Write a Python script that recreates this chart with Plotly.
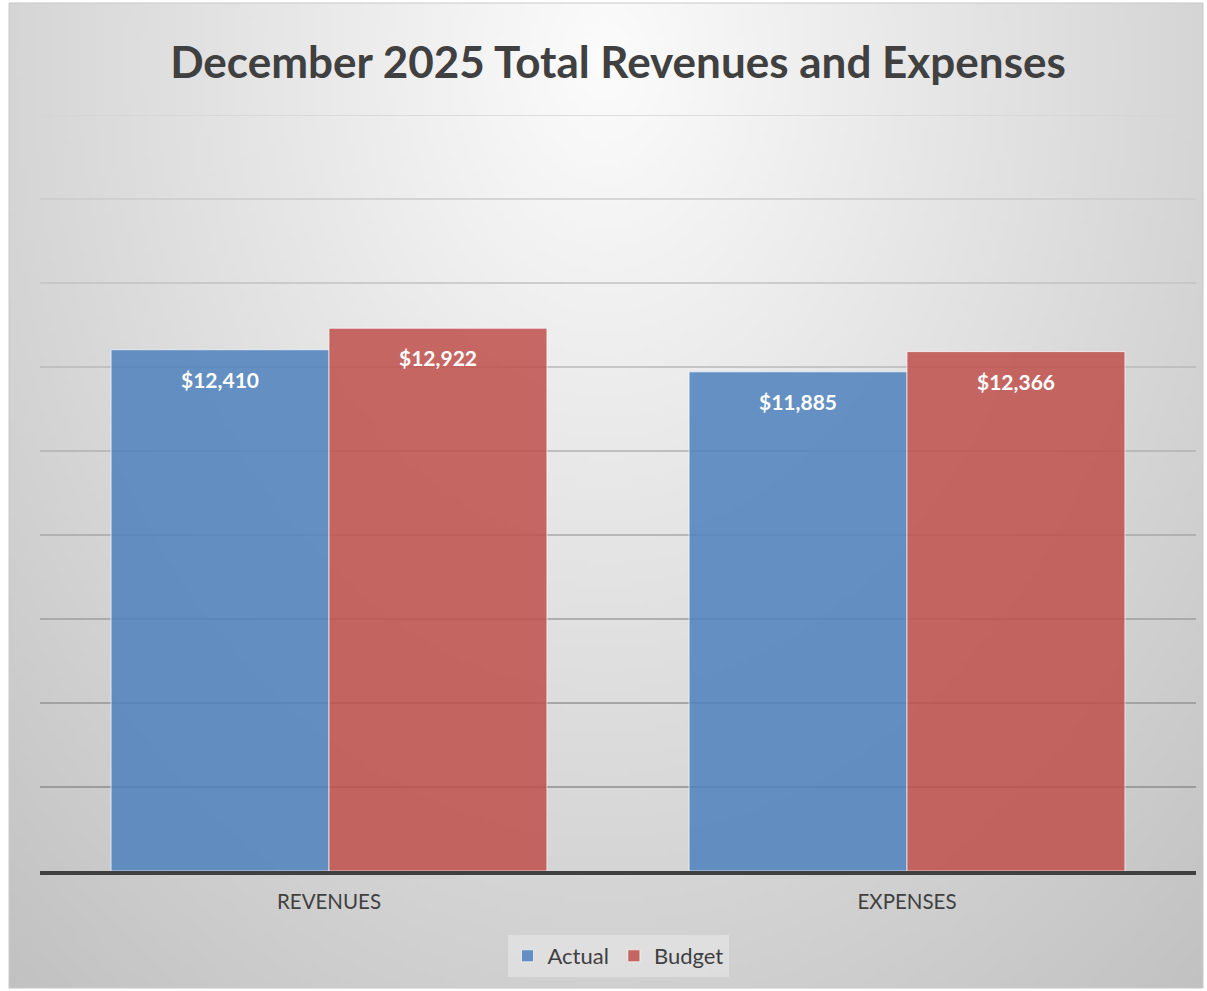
import base64, struct, zlib
import numpy as np
import plotly.graph_objects as go

# ---- data ----
categories = ["REVENUES", "EXPENSES"]
actual = [12410, 11885]
budget = [12922, 12366]
series_names = ["Actual", "Budget"]
grid_vals = [2000, 4000, 6000, 8000, 10000, 12000, 14000, 16000, 18000]

# ---- style ----
W, H = 1207, 991
PL, PR, PT, PB = 40, 11, 115, 120
plot_w = W - PL - PR
plot_h = H - PT - PB
FONT = "Lato"
TXT = "#404040"
BARGAP = 0.246


def png_data_uri(arr):
    h, w = arr.shape[:2]
    raw = b"".join(b"\x00" + arr[r].astype(np.uint8).tobytes() for r in range(h))
    def chunk(t, d):
        c = struct.pack(">I", len(d)) + t + d
        return c + struct.pack(">I", zlib.crc32(t + d) & 0xffffffff)
    png = b"\x89PNG\r\n\x1a\n" + chunk(b"IHDR", struct.pack(">IIBBBBB", w, h, 8, 2, 0, 0, 0)) \
        + chunk(b"IDAT", zlib.compress(raw, 9)) + chunk(b"IEND", b"")
    return "data:image/png;base64," + base64.b64encode(png).decode()

# radial background gradient (light at top centre, grey toward corners)
gw, gh = 240, 197
bx0, by0, bx1, by1 = 9, 3, 1203, 988
xs = np.linspace(bx0, bx1, gw)
ys = np.linspace(by0, by1, gh)
X, Y = np.meshgrid(xs, ys)
d = np.sqrt(((X - 605) / 700) ** 2 + ((Y - 60) / 950) ** 2)
v = np.clip(252 - 45 * d, 185, 252)
img = np.stack([v, v, v], axis=-1)
bg_uri = png_data_uri(img)

fig = go.Figure()
colors = ["rgba(79,129,189,0.86)", "rgba(192,80,77,0.86)"]
for name, vals, col in zip(series_names, [actual, budget], colors):
    fig.add_trace(go.Bar(
        x=categories, y=vals, name=name,
        marker=dict(color=col, line=dict(color="rgba(255,255,255,0.65)", width=1)),
        hoverinfo="x+y",
    ))

# data labels inside end of each bar
bw = (1 - BARGAP) / 2
for k, vals in enumerate([actual, budget]):
    off = (k - 0.5) * bw
    for i, val in enumerate(vals):
        fig.add_annotation(
            x=i + off, y=val, xref="x", yref="y", text=f"${val:,}",
            showarrow=False, yanchor="top", yshift=-15,
            font=dict(family=FONT, size=21, color="white", weight="bold"),
        )

# gridlines with colour gradient (lighter toward the top)
for j, g in enumerate(grid_vals):
    t = j / (len(grid_vals) - 1)
    c = int(round(140 + (212 - 140) * t))
    fig.add_shape(type="line", xref="paper", yref="y", x0=0, x1=1, y0=g, y1=g,
                  line=dict(color=f"rgb({c},{c},{c})", width=1.6), layer="below")

fig.add_layout_image(
    source=bg_uri, xref="paper", yref="paper",
    x=(bx0 - PL) / plot_w, y=(H - PB - by0) / plot_h,
    sizex=(bx1 - bx0) / plot_w, sizey=(by1 - by0) / plot_h,
    xanchor="left", yanchor="top", sizing="stretch", layer="below",
)
# chart border
fig.add_shape(type="rect", xref="paper", yref="paper",
              x0=(bx0 - PL) / plot_w, x1=(bx1 - PL) / plot_w,
              y0=(H - PB - by1) / plot_h, y1=(H - PB - by0) / plot_h,
              line=dict(color="#C8C8C8", width=1), layer="below")

fig.update_layout(
    width=W, height=H,
    margin=dict(l=PL, r=PR, t=PT, b=PB),
    paper_bgcolor="white", plot_bgcolor="rgba(0,0,0,0)",
    barmode="group", bargap=BARGAP, bargroupgap=0.0,
    title=dict(text="December 2025 Total Revenues and Expenses",
               x=(PL + plot_w / 2) / W, xanchor="center",
               y=1 - 63 / H, yanchor="middle", yref="container",
               font=dict(family=FONT, size=44, color=TXT, weight="bold")),
    xaxis=dict(showgrid=False, showline=True, linecolor="#404040", linewidth=3.5,
               ticks="outside", ticklen=10, tickcolor="rgba(0,0,0,0)",
               tickfont=dict(family=FONT, size=20.5, color=TXT)),
    yaxis=dict(range=[0, 18000], showgrid=False, zeroline=False, showticklabels=False,
               ticks=""),
    legend=dict(orientation="h", x=0.5, xanchor="center", y=(871 - 956) / plot_h,
                yanchor="middle", bgcolor="rgba(255,255,255,0.3)",
                font=dict(family=FONT, size=22, color=TXT),
                itemwidth=30, traceorder="normal"),
    showlegend=True,
)

fig.write_html("out.html", config={"displayModeBar": False},
               post_script="document.body.style.margin='0';")
